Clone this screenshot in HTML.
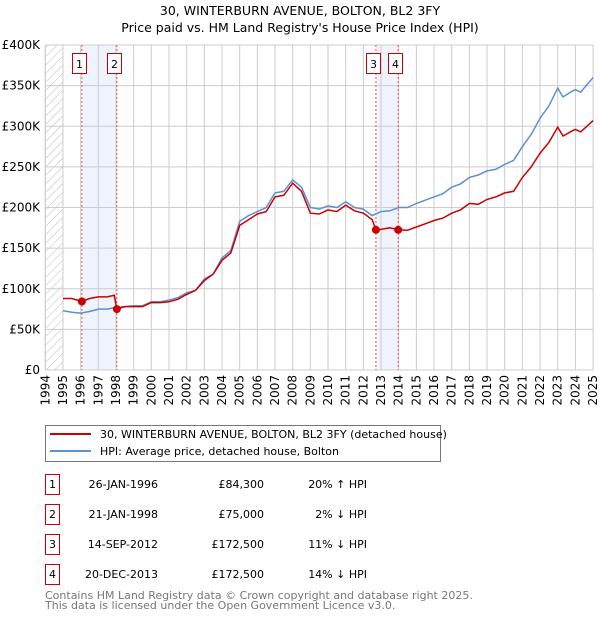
<!DOCTYPE html>
<html><head><meta charset="utf-8"><style>
body{margin:0;background:#fff;font-family:"Liberation Sans","DejaVu Sans",sans-serif;}
svg text{font-family:"DejaVu Sans","Liberation Sans",sans-serif;}
</style></head><body>
<svg id="c" width="600" height="620" xmlns="http://www.w3.org/2000/svg">
<text x="300" y="15" font-size="12.5" text-anchor="middle">30, WINTERBURN AVENUE, BOLTON, BL2 3FY</text>
<text x="300" y="32" font-size="12.5" text-anchor="middle">Price paid vs. HM Land Registry's House Price Index (HPI)</text>
<defs><pattern id="h" width="6" height="6" patternUnits="userSpaceOnUse" patternTransform="rotate(45)"><line x1="0" y1="0" x2="0" y2="6" stroke="#bbb" stroke-width="1"/></pattern></defs>
<g id="plot"></g>
<g>
<rect x="45.5" y="425.5" width="395" height="36" fill="#fff" stroke="#777"/>
<line x1="50" y1="434" x2="91" y2="434" stroke="#cc0000" stroke-width="2"/>
<text x="100" y="438" font-size="11">30, WINTERBURN AVENUE, BOLTON, BL2 3FY (detached house)</text>
<line x1="50" y1="451" x2="91" y2="451" stroke="#5b8fd6" stroke-width="2"/>
<text x="100" y="455" font-size="11">HPI: Average price, detached house, Bolton</text>
</g>
<g id="tbl" font-size="11"></g>
<text x="45" y="599" font-size="11" fill="#777">Contains HM Land Registry data © Crown copyright and database right 2025.</text>
<text x="45" y="609" font-size="11" fill="#777">This data is licensed under the Open Government Licence v3.0.</text>
</svg>
<script>
const years=[1994,1995,1996,1997,1998,1999,2000,2001,2002,2003,2004,2005,2006,2007,2008,2009,2010,2011,2012,2013,2014,2015,2016,2017,2018,2019,2020,2021,2022,2023,2024,2025];
const yTicks=[0,50,100,150,200,250,300,350,400];
const yTickLabels=["£0","£50K","£100K","£150K","£200K","£250K","£300K","£350K","£400K"];
const hpiT=[1995,1995.5,1996,1996.5,1997,1997.5,1998,1998.5,1999,1999.5,2000,2000.5,2001,2001.5,2002,2002.5,2003,2003.5,2004,2004.5,2005,2005.5,2006,2006.5,2007,2007.5,2008,2008.5,2009,2009.5,2010,2010.5,2011,2011.5,2012,2012.5,2013,2013.5,2014,2014.5,2015,2015.5,2016,2016.5,2017,2017.5,2018,2018.5,2019,2019.5,2020,2020.5,2021,2021.5,2022,2022.5,2023,2023.3,2023.8,2024,2024.3,2025];
const hpiV=[73,71,70,72,75,75,77,78,79,79,84,84,86,89,95,98,112,118,138,147,183,190,195,200,218,220,234,225,200,198,202,200,207,200,198,190,195,196,200,200,205,209,213,217,225,229,237,240,245,247,253,258,275,290,310,325,347,336,343,345,342,360];
const ppT=[1995,1995.5,1996.07,1996.5,1997,1997.5,1997.9,1998.05,1998.5,1999,1999.5,2000,2000.5,2001,2001.5,2002,2002.5,2003,2003.5,2004,2004.5,2005,2005.5,2006,2006.5,2007,2007.5,2008,2008.5,2009,2009.5,2010,2010.5,2011,2011.5,2012,2012.5,2012.71,2013,2013.5,2013.97,2014.5,2015,2015.5,2016,2016.5,2017,2017.5,2018,2018.5,2019,2019.5,2020,2020.5,2021,2021.5,2022,2022.5,2023,2023.3,2023.8,2024,2024.3,2025];
const ppV=[88,88,84.3,88,90,90,92,75,78,78,78,83,83,84,87,93,98,110,118,135,144,178,185,192,195,213,215,230,220,193,192,197,195,203,196,193,185,172.5,173,175,172.5,172,176,180,184,187,193,197,205,204,210,213,218,220,237,250,267,280,299,288,294,296,293,307];
const saleT=[1996.07,1998.05,2012.71,2013.97];
const saleV=[84.3,75,172.5,172.5];
const saleLabels=["1","2","3","4"];
const saleDates=["26-JAN-1996","21-JAN-1998","14-SEP-2012","20-DEC-2013"];
const salePrices=["£84,300","£75,000","£172,500","£172,500"];
const saleHpi=["20% ↑ HPI","2% ↓ HPI","11% ↓ HPI","14% ↓ HPI"];

const NS="http://www.w3.org/2000/svg";
const X0=45.3,YR=17.67,Y0=370,YS=325/400;
const xs=t=>X0+(t-1994)*YR, ys=v=>Y0-v*YS;
const plot=document.getElementById('plot');
function mk(tag,at,parent){const e=document.createElementNS(NS,tag);for(const k in at)e.setAttribute(k,at[k]);(parent||plot).appendChild(e);return e;}
let e;
e=mk('rect',{x:xs(1994),y:ys(400),width:xs(1995)-xs(1994),height:Y0-ys(400),fill:'url(#h)'});


for(let i=0;i<saleT.length;i+=2){
 e=mk('rect',{x:xs(saleT[i]),y:ys(400),width:xs(saleT[i+1])-xs(saleT[i]),height:Y0-ys(400),fill:'#eef3fc'});
 
 
}
years.forEach(y=>{
 e=mk('line',{x1:xs(y),x2:xs(y),y1:ys(400),y2:Y0,stroke:'#ccc'});
 
 
 const tx=xs(y)+4;
 e=mk('text',{x:0,y:0,transform:`translate(${tx},${Y0+5}) rotate(-90)`,'font-size':12,'text-anchor':'end'});
 e.textContent=y;
 
 
});
yTicks.forEach((v,i)=>{
 e=mk('line',{x1:xs(1994),x2:xs(2025),y1:ys(v),y2:ys(v),stroke:'#ccc'});
 
 
 e=mk('text',{x:40,y:ys(v)+4,'font-size':12,'text-anchor':'end'});
 e.textContent=yTickLabels[i];
 
 
});
saleT.forEach((t,i)=>{
 e=mk('line',{x1:xs(t),x2:xs(t),y1:ys(400),y2:Y0,stroke:'#e55','stroke-dasharray':'2,2'});
 
 
});
function path(T,V){return T.map((t,i)=>(i?'L':'M')+xs(t).toFixed(1)+','+ys(V[i]).toFixed(1)).join('');}
e=mk('path',{d:path(hpiT,hpiV),fill:'none',stroke:'#5b8fd6','stroke-width':1.5});


e=mk('path',{d:path(ppT,ppV),fill:'none',stroke:'#cc0000','stroke-width':1.5});


saleT.forEach((t,i)=>{
 e=mk('circle',{cx:xs(t),cy:ys(saleV[i]),r:4,fill:'#cc0000'});
 
 
 const lx=Math.round(xs(t)-10);
 const g=mk('g',{});
 
 
 mk('rect',{x:lx+0.5,y:53.5,width:14,height:20,fill:'#fff',stroke:'#cc0000'},g);
 const tt=mk('text',{x:lx+7.5,y:68,'font-size':11,'text-anchor':'middle'},g);
 tt.textContent=saleLabels[i];
});
mk('line',{x1:xs(1994),x2:xs(1994),y1:ys(400),y2:Y0,stroke:'#ccc'});
const tbl=document.getElementById('tbl');
saleT.forEach((t,i)=>{
 const y=483+i*30;
 const g=mk('g',{},tbl);
 
 
 mk('rect',{x:45.5,y:y-8.5,width:14,height:20,fill:'#fff',stroke:'#cc0000'},g);
 let s=mk('text',{x:52.5,y:y+5,'text-anchor':'middle'},g);s.textContent=saleLabels[i];
 s=mk('text',{x:158,y:y+5,'text-anchor':'end'},g);s.textContent=saleDates[i];
 s=mk('text',{x:264,y:y+5,'text-anchor':'end'},g);s.textContent=salePrices[i];
 s=mk('text',{x:367,y:y+5,'text-anchor':'end'},g);s.textContent=saleHpi[i];
});
</script>
</body></html>
